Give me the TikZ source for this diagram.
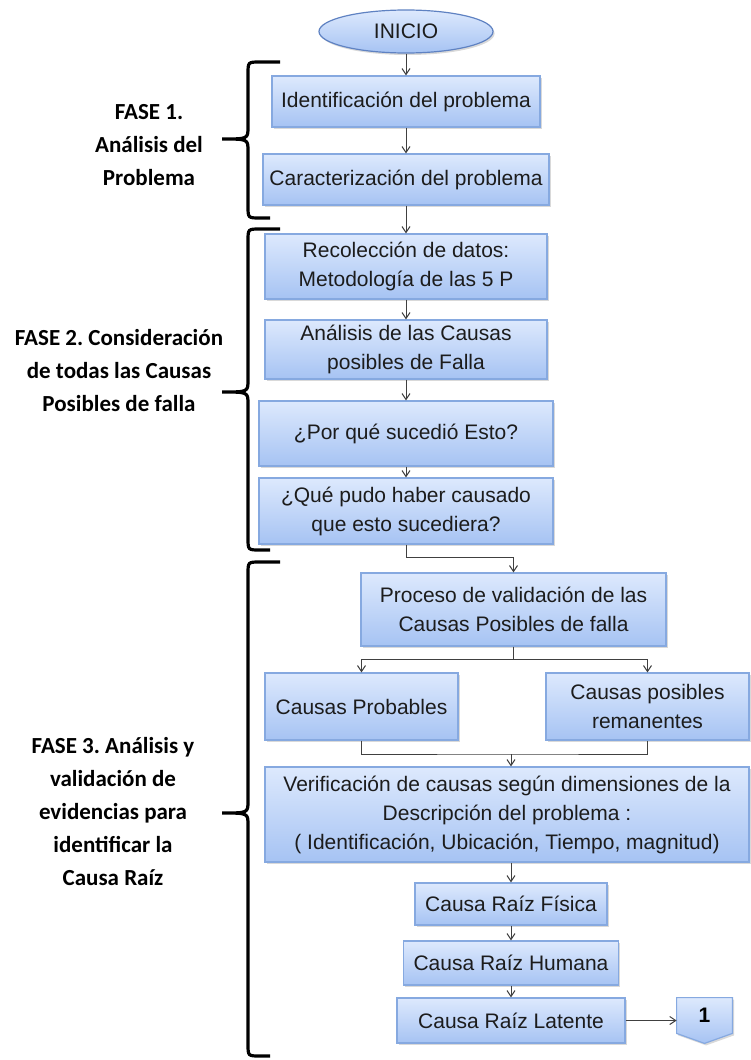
\documentclass[tikz,border=0pt]{standalone}
\usepackage{fontspec}
\setmainfont{Liberation Sans}
\newfontfamily\fasefont{Carlito}
\frenchspacing
\usetikzlibrary{arrows.meta, shapes.geometric, shadows, backgrounds}
\definecolor{cclaro}{HTML}{DDE9FD}
\definecolor{cazul}{HTML}{A6C3F3}
\definecolor{cborde}{HTML}{86A9E0}
\definecolor{celipse}{HTML}{5F82C2}
\definecolor{clinea}{HTML}{404040}
\definecolor{ctexto}{HTML}{1C1C1C}
\tikzset{
  caja/.style={draw=cborde, line width=0.6pt, top color=cclaro, bottom color=cazul,
    align=center, inner sep=2pt, text=ctexto, font=\fontsize{10.5}{14.5}\selectfont,
    drop shadow={shadow xshift=0.8pt, shadow yshift=-1pt, opacity=0.3}},
  inicio/.style={caja, ellipse, draw=celipse, inner sep=0pt},
  linea/.style={draw=clinea, line width=0.5pt},
  conector/.style={linea, -{Straight Barb[length=3pt, width=4pt]}},
  llave/.style={draw=black, line width=1.6pt},
  fase/.style={font=\fasefont\bfseries\fontsize{11.5}{16.5}\selectfont, align=center, text=black},
}
\begin{document}
\begin{tikzpicture}[x=0.5pt, y=-0.5pt]
  \useasboundingbox (0,0) rectangle (750,1060);
  % column of the first two phases
  \node[inicio, minimum width=87pt, minimum height=21.5pt] (inicio) at (406,31.5) {INICIO};
  \node[caja, minimum width=134pt, minimum height=25.5pt] (ident) at (406,101.5) {Identificación del problema};
  \node[caja, minimum width=143pt, minimum height=25.5pt] (carac) at (406,179.5) {Caracterización del problema};
  \node[caja, minimum width=141pt, minimum height=32.5pt] (recol) at (406,266.5) {Recolección de datos:\\Metodología de las 5 P};
  \node[caja, minimum width=141pt, minimum height=29.5pt] (analisis) at (406,349.5) {Análisis de las Causas\\posibles de Falla};
  \node[caja, minimum width=147pt, minimum height=32.5pt] (porque) at (406,433.5) {¿Por qué sucedió Esto?};
  \node[caja, minimum width=147pt, minimum height=33pt] (quepudo) at (406,511) {¿Qué pudo haber causado\\que esto sucediera?};
  \foreach \a/\b in {inicio/ident, ident/carac, carac/recol, recol/analisis, analisis/porque, porque/quepudo}
    \draw[conector] (\a) -- (\b);
  % validation of the causes
  \node[caja, minimum width=152.5pt, minimum height=36.5pt] (proceso) at (513.5,609.5) {Proceso de validación de las\\Causas Posibles de falla};
  \node[caja, minimum width=96.5pt, minimum height=33.5pt] (probables) at (361.5,706.5) {Causas Probables};
  \node[caja, minimum width=101.5pt, minimum height=33.5pt] (remanentes) at (647.5,706.5) {Causas posibles\\remanentes};
  \node[caja, minimum width=242pt, minimum height=47.5pt] (verif) at (507,814.5) {Verificación de causas según dimensiones de la\\Descripción del problema :\\( Identificación, Ubicación, Tiempo, magnitud)};
  \draw[conector] (quepudo.south) -- ++(0,13) -| (proceso.north);
  \draw[conector] (proceso.south) -- ++(0,13) -| (probables.north);
  \draw[conector] (proceso.south) -- ++(0,13) -| (remanentes.north);
  \coordinate (junta) at (511,754);
  \draw[linea] (probables.south) |- (junta) -| (remanentes.south);
  \draw[conector] (junta) -- (junta |- verif.north);
  % the three root causes
  \node[caja, minimum width=96pt, minimum height=21pt] (fisica) at (511,904) {Causa Raíz Física};
  \node[caja, minimum width=107.5pt, minimum height=22pt] (humana) at (511,963) {Causa Raíz Humana};
  \node[caja, minimum width=114pt, minimum height=22.5pt] (latente) at (511,1020.5) {Causa Raíz Latente};
  \node[minimum width=27.5pt, minimum height=17.5pt, inner sep=0pt, font=\bfseries\fontsize{10.5}{12}\selectfont] (pagina) at (704.5,1015.5) {1};
  \begin{scope}[on background layer]
    \shade[top color=cclaro, bottom color=cazul, draw=cborde, line width=0.6pt,
      drop shadow={shadow xshift=0.8pt, shadow yshift=-1pt, opacity=0.3}]
      (pagina.north west) -- (pagina.north east) -- (pagina.south east)
      -- ([yshift=-5pt]pagina.south) -- (pagina.south west) -- cycle;
  \end{scope}
  \draw[conector] (verif.south -| fisica) -- (fisica);
  \draw[conector] (fisica) -- (humana);
  \draw[conector] (humana) -- (latente);
  \draw[conector] (latente.east) -- (latente.east -| pagina.west);
  % phases and their braces
  \node[fase] (fase1) at (149,145) {FASE 1.\\Análisis del\\Problema};
  \node[fase] (fase2) at (119,371) {FASE 2. Consideración\\de todas las Causas\\Posibles de falla};
  \node[fase] (fase3) at (113,812) {FASE 3. Análisis y\\validación de\\evidencias para\\identificar la\\Causa Raíz};
  \foreach \a/\p/\b in {62/139/218, 229/392/550, 562/813/1056}
    \draw[llave] (280,\a) -- (260,\a) .. controls (248,\a) .. (248,\a+12)
      -- (248,\p-12) .. controls (248,\p) .. (222,\p)
      .. controls (248,\p) .. (248,\p+12) -- (248,\b-12)
      .. controls (248,\b) .. (260,\b) -- (270,\b);
\end{tikzpicture}
\end{document}
